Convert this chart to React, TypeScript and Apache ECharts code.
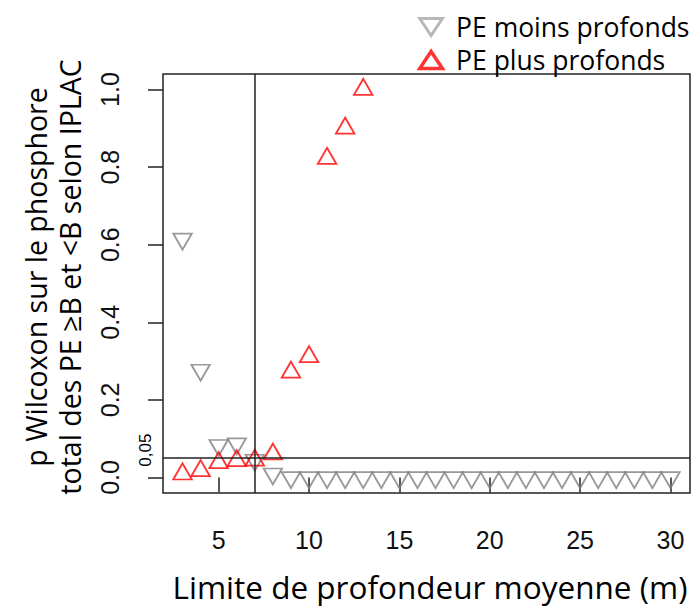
import React, { useEffect, useRef } from 'react';
import * as echarts from 'echarts';

// Limite de profondeur moyenne (m)
const depths = [3, 4, 5, 6, 7, 8, 9, 10, 11, 12, 13, 14, 15, 16, 17, 18, 19, 20, 21, 22, 23, 24, 25, 26, 27, 28, 29, 30];
// p Wilcoxon - PE moins profonds
const pMoins = [0.615, 0.277, 0.083, 0.087, 0.045, 0.0095, 0, 0, 0, 0, 0, 0, 0, 0, 0, 0, 0, 0, 0, 0, 0, 0, 0, 0, 0, 0, 0, 0];
// p Wilcoxon - PE plus profonds (x = 3..13)
const pPlus = [0.0085, 0.017, 0.038, 0.043, 0.044, 0.06, 0.271, 0.311, 0.822, 0.9, 1.0];
const xTicks = [5, 10, 15, 20, 25, 30];
const yTicks = [0, 0.2, 0.4, 0.6, 0.8, 1.0];
const limitDepth = 7;
const threshold = 0.05;
const seriesNames = ['PE moins profonds', 'PE plus profonds'];

const UP = 'path://M1,0 L2,1.5 L0,1.5 Z';
const DOWN = 'path://M0,0 L2,0 L1,1.5 Z';

export default function App() {
  const ref = useRef<HTMLDivElement>(null);
  useEffect(() => {
    const chart = echarts.init(ref.current!, null, { renderer: 'svg' });
    const option: any = {
      animation: false,
      backgroundColor: '#fff',
      grid: { left: 163, right: 8, top: 74, bottom: 115, show: true, borderColor: '#222', borderWidth: 1.5, backgroundColor: 'transparent' },
      legend: {
        orient: 'vertical', left: 413, top: 7, itemWidth: 40, itemHeight: 17, itemGap: 3,
        textStyle: { fontFamily: 'Open Sans', fontSize: 26.5, color: '#000', lineHeight: 30 },
        data: [
          { name: seriesNames[0], icon: DOWN, itemStyle: { color: 'transparent', borderColor: '#a6a6a6', borderWidth: 3 } },
          { name: seriesNames[1], icon: UP, itemStyle: { color: 'transparent', borderColor: '#ff0000', borderWidth: 3.5 } },
        ],
      },
      xAxis: {
        type: 'value', min: 1.92, max: 31.08,
        axisLine: { show: false },
        splitLine: { show: false },
        axisTick: { show: true, customValues: xTicks, length: 15, lineStyle: { color: '#222', width: 1.5 } },
        axisLabel: { customValues: xTicks, margin: 34, fontFamily: 'Liberation Sans', fontSize: 25, color: '#111' },
      },
      yAxis: {
        type: 'value', min: -0.04, max: 1.04,
        axisLine: { show: false },
        splitLine: { show: false },
        axisTick: { show: true, customValues: yTicks, length: 15, lineStyle: { color: '#222', width: 1.5 } },
        axisLabel: { customValues: yTicks, rotate: 90, margin: 41, formatter: (v: number) => v.toFixed(1), fontFamily: 'Liberation Sans', fontSize: 25, color: '#111' },
      },
      series: [
        {
          name: seriesNames[0], type: 'scatter', symbol: DOWN, symbolSize: [18.5, 16], symbolOffset: [0, 2.7],
          itemStyle: { color: 'transparent', borderColor: '#808080', borderWidth: 1.8 },
          data: depths.map((d, i) => [d, pMoins[i]]),
          markLine: {
            silent: true, symbol: ['none', 'none'], label: { show: false },
            lineStyle: { color: '#222', width: 1.5, type: 'solid' },
            data: [{ xAxis: limitDepth }, { yAxis: threshold }],
          },
        },
        {
          name: seriesNames[1], type: 'scatter', symbol: UP, symbolSize: [18.5, 16], symbolOffset: [0, -2.7],
          itemStyle: { color: 'transparent', borderColor: '#ff0000', borderWidth: 1.8 },
          data: pPlus.map((v, i) => [depths[i], v]),
        },
      ],
    };
    chart.setOption(option);
    const p = chart.convertToPixel({ gridIndex: 0 }, [1.92, threshold]) as number[];
    chart.setOption({
      graphic: [
        { type: 'text', x: 36, y: 277, rotation: Math.PI / 2, style: { text: 'p Wilcoxon sur le phosphore', fontFamily: 'Open Sans', fontSize: 28.5, fill: '#000', align: 'center', verticalAlign: 'middle' } },
        { type: 'text', x: 70, y: 277, rotation: Math.PI / 2, style: { text: 'total des PE \u2265B et <B selon IPLAC', fontFamily: 'Open Sans', fontSize: 28.5, fill: '#000', align: 'center', verticalAlign: 'middle' } },
        { type: 'text', x: 430, y: 586, style: { text: 'Limite de profondeur moyenne (m)', fontFamily: 'Open Sans', fontSize: 31.5, fill: '#000', align: 'center', verticalAlign: 'middle' } },
        { type: 'text', x: p[0] - 18, y: p[1] - 8, rotation: Math.PI / 2, style: { text: '0,05', fontFamily: 'Liberation Sans', fontSize: 17, fill: '#000', align: 'center', verticalAlign: 'middle' } },
      ],
    });
    return () => chart.dispose();
  }, []);
  return <div ref={ref} style={{ position: 'fixed', left: 0, top: 0, width: 698, height: 608 }} />;
}
